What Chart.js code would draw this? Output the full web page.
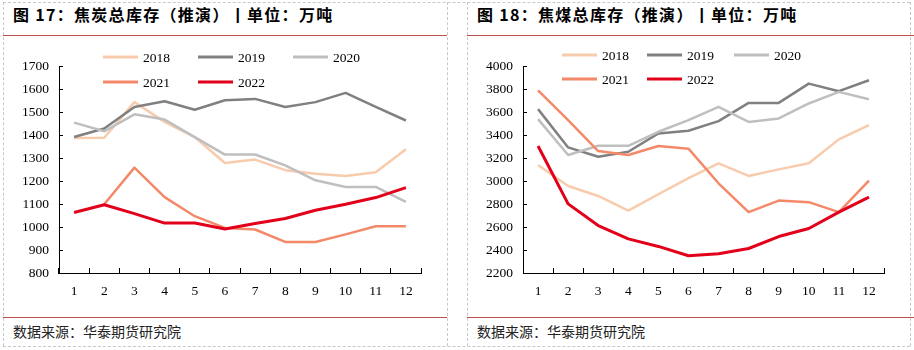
<!DOCTYPE html>
<html><head><meta charset="utf-8">
<script src="https://cdn.jsdelivr.net/npm/chart.js@4.4.1/dist/chart.umd.min.js"></script>
<style>
html,body{margin:0;padding:0;background:#fff;}
body{width:914px;height:350px;position:relative;overflow:hidden;font-family:"Noto Sans CJK SC","Noto Sans",sans-serif;}
.title{position:absolute;top:3px;font-size:16px;font-weight:bold;color:#000;letter-spacing:1.3px;white-space:nowrap;line-height:22px;}
.src{position:absolute;top:321px;font-size:14px;color:#222;white-space:nowrap;line-height:20px;}
.hl{position:absolute;height:0;border-top:1px dashed #c8c8c8;}
.vl{position:absolute;width:0;border-left:1px dashed #c8c8c8;}
.red{position:absolute;height:1px;background:#c0504d;}
canvas{position:absolute;}
</style></head>
<body>
<div class="hl" style="left:3px;top:2px;width:907px"></div>
<div class="hl" style="left:3px;top:346px;width:907px"></div>
<div class="vl" style="left:3px;top:2px;height:344px"></div>
<div class="vl" style="left:447px;top:2px;height:344px"></div>
<div class="vl" style="left:467px;top:2px;height:344px"></div>
<div class="vl" style="left:910px;top:2px;height:344px"></div>
<div class="red" style="left:3px;top:35px;width:444px"></div>
<div class="red" style="left:467px;top:35px;width:447px"></div>
<div class="red" style="left:3px;top:317px;width:444px"></div>
<div class="red" style="left:467px;top:317px;width:447px"></div>
<div class="title" style="left:13px">图 17：焦炭总库存（推演）丨单位：万吨</div>
<div class="title" style="left:477px">图 18：焦煤总库存（推演）丨单位：万吨</div>
<div class="src" style="left:13px">数据来源：华泰期货研究院</div>
<div class="src" style="left:477px">数据来源：华泰期货研究院</div>
<canvas id="c1" width="446" height="275" style="left:0;top:40px"></canvas>
<canvas id="c2" width="457" height="275" style="left:457px;top:40px"></canvas>
<script>
const months = ['1','2','3','4','5','6','7','8','9','10','11','12'];
const years = ['2018','2019','2020','2021','2022'];

// 焦炭总库存 (万吨)
const coke2018 = [1387,1388,1543,1457,1391,1278,1293,1247,1232,1222,1238,1338];
const coke2019 = [1391,1428,1522,1547,1510,1551,1557,1522,1543,1583,1522,1463];
const coke2020 = [1454,1416,1490,1467,1391,1315,1315,1268,1203,1174,1174,1109];
const coke2021 = [null,1099,1258,1130,1047,996,989,935,935,968,1003,1003];
const coke2022 = [1063,1097,1058,1017,1017,991,1015,1037,1073,1099,1128,1171];
const cokeTicks = [800,900,1000,1100,1200,1300,1400,1500,1600,1700];

// 焦煤总库存 (万吨)
const coal2018 = [3139,2957,2870,2743,2885,3025,3154,3044,3101,3154,3362,3486];
const coal2019 = [3625,3292,3211,3254,3414,3437,3521,3679,3679,3847,3781,3876];
const coal2020 = [3538,3226,3306,3306,3428,3529,3645,3514,3544,3674,3775,3711];
const coal2021 = [3789,3529,3260,3226,3304,3281,2980,2729,2830,2816,2729,3003];
const coal2022 = [3304,2801,2613,2497,2431,2350,2367,2413,2517,2587,2729,2859];
const coalTicks = [2200,2400,2600,2800,3000,3200,3400,3600,3800,4000];

const colors = ['#f8cbad','#808080','#bfbfbf','#f4896a','#e2001a'];
const widths = [2.5,2.5,2.5,2.5,3];

const FONT = '"Liberation Serif","Times New Roman",serif';

function makeSets(series){
  return series.map((d,i)=>({
    label: years[i], data: d, borderColor: colors[i], backgroundColor: colors[i],
    borderWidth: widths[i], pointRadius: 0, tension: 0, fill: false, order: 5-i,
    borderCapStyle:'butt', borderJoinStyle:'round'
  }));
}

const rowLegend = {
  id:'rowLegend',
  afterDraw(chart, args, opts){
    const ctx = chart.ctx;
    ctx.save();
    chart.data.datasets.forEach((ds,i)=>{
      const p = opts.pos[i];
      ctx.strokeStyle = ds.borderColor; ctx.lineWidth = 3; ctx.lineCap='butt';
      ctx.beginPath(); ctx.moveTo(p[0],p[1]); ctx.lineTo(p[0]+35,p[1]); ctx.stroke();
      ctx.fillStyle = '#000'; ctx.font = '13.5px ' + FONT; ctx.textBaseline='middle'; ctx.textAlign='left';
      ctx.fillText(ds.label, p[0]+40, p[1]+1);
    });
    ctx.restore();
  }
};

function build(id, series, ticks, yw, padRight, legendPos){
  const mn = ticks[0], mx = ticks[ticks.length-1], st = ticks[1]-ticks[0];
  new Chart(document.getElementById(id), {
    type:'line',
    data:{labels: months, datasets: makeSets(series)},
    plugins:[rowLegend],
    options:{
      responsive:false, animation:false, devicePixelRatio:1,
      layout:{padding:{top:26,right:padRight,left:0,bottom:0}},
      plugins:{legend:{display:false}, tooltip:{enabled:false}, rowLegend:{pos:legendPos}},
      scales:{
        x:{offset:true,
           grid:{offset:true,drawOnChartArea:false,color:'#000',tickLength:-5,lineWidth:1},
           border:{color:'#000',width:1},
           ticks:{color:'#000',font:{family:FONT,size:13.5},padding:15,maxRotation:0,autoSkip:false},
           afterFit(s){ s.height = 42; }},
        y:{min:mn,max:mx,
           grid:{drawOnChartArea:false,color:'#000',tickLength:-4,lineWidth:1},
           border:{color:'#000',width:1},
           ticks:{stepSize:st,color:'#000',font:{family:FONT,size:13.5},padding:14,
                  callback:(v)=>String(v)},
           afterFit(s){ s.width = yw; }}
      }
    }
  });
}

build('c1', [coke2018,coke2019,coke2020,coke2021,coke2022], cokeTicks, 59, 25,
  [[103,17],[198,17],[293,17],[103,42],[198,42]]);
build('c2', [coal2018,coal2019,coal2020,coal2021,coal2022], coalTicks, 66, 30,
  [[105,15],[190,15],[277,15],[105,39],[190,39]]);
</script>
</body></html>
